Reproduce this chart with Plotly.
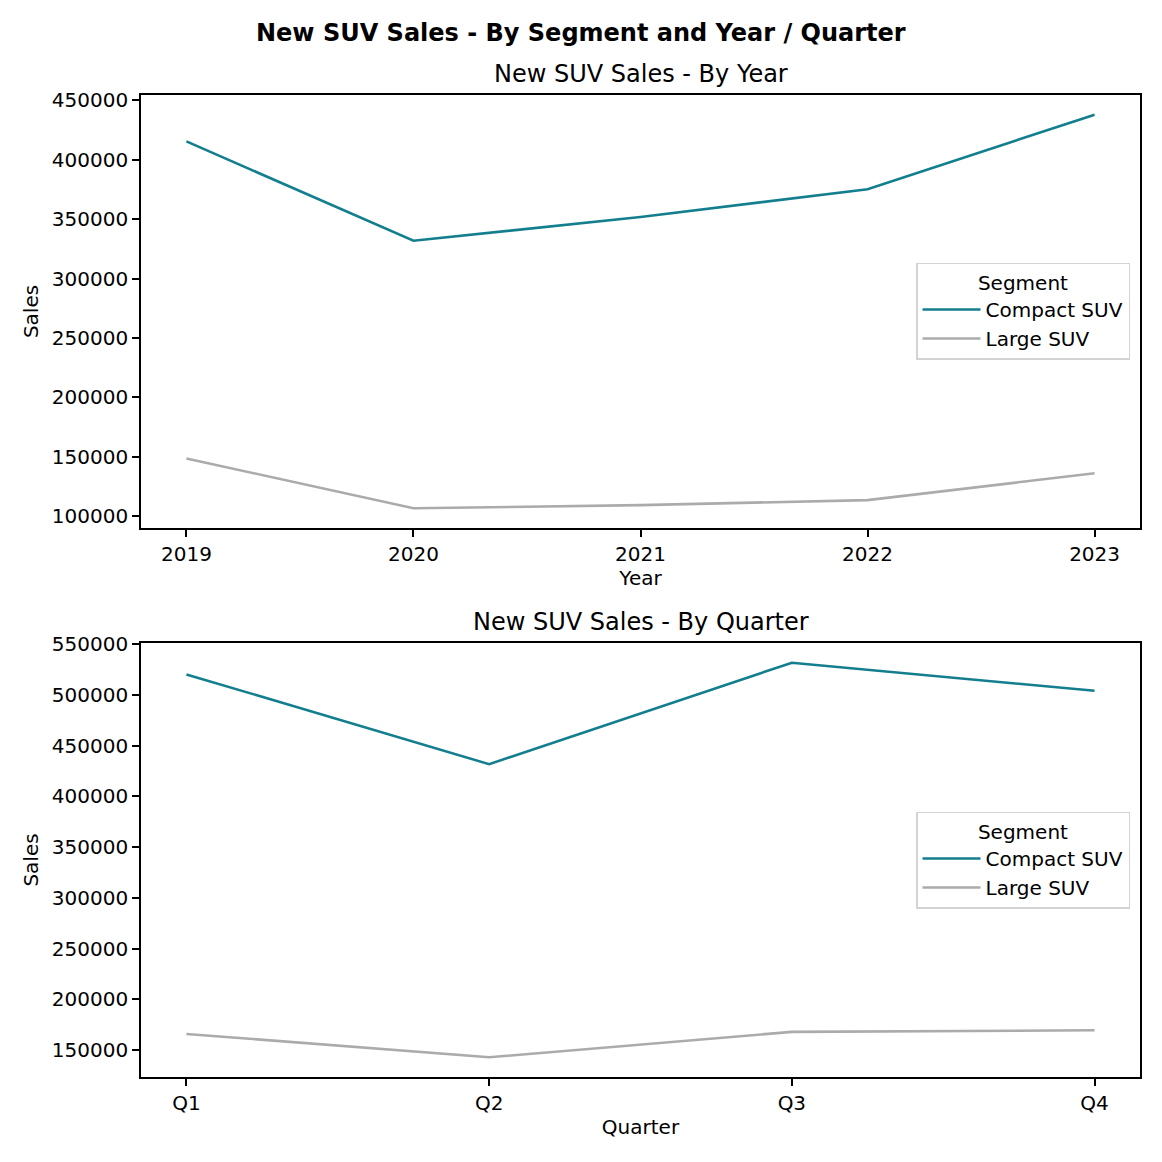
import plotly.graph_objects as go

years = ["2019", "2020", "2021", "2022", "2023"]
year_compact = [415500, 331900, 351900, 375300, 438000]
year_large = [148700, 106700, 109400, 113600, 136200]

quarters = ["Q1", "Q2", "Q3", "Q4"]
q_compact = [520400, 431900, 531900, 504200]
q_large = [165800, 142800, 167800, 169400]

y_ticks_top = [100000, 150000, 200000, 250000, 300000, 350000, 400000, 450000]
y_ticks_bot = [150000, 200000, 250000, 300000, 350000, 400000, 450000, 500000, 550000]

TEAL = "#137f8e"
GRAY = "#ababab"
FONT = "DejaVu Sans"

# page offset (browser body margin) and figure size
OFF = 8.0
S = 1146.0


def px(X):
    return (X - OFF) / S


def py(Y):
    return 1 - (Y - OFF) / S


def pad_range(vals, frac=0.05):
    lo, hi = min(vals), max(vals)
    d = (hi - lo) * frac
    return [lo - d, hi + d]


LW = 2.6
fig = go.Figure()
fig.add_trace(go.Scatter(x=years, y=year_compact, mode="lines", name="Compact SUV",
                         line=dict(color=TEAL, width=LW), xaxis="x", yaxis="y", legend="legend"))
fig.add_trace(go.Scatter(x=years, y=year_large, mode="lines", name="Large SUV",
                         line=dict(color=GRAY, width=LW), xaxis="x", yaxis="y", legend="legend"))
fig.add_trace(go.Scatter(x=quarters, y=q_compact, mode="lines", name="Compact SUV",
                         line=dict(color=TEAL, width=LW), xaxis="x2", yaxis="y2", legend="legend2"))
fig.add_trace(go.Scatter(x=quarters, y=q_large, mode="lines", name="Large SUV",
                         line=dict(color=GRAY, width=LW), xaxis="x2", yaxis="y2", legend="legend2"))

TICK = 20
axis_common = dict(showline=True, mirror=True, linecolor="black", linewidth=1.6,
                   ticks="outside", ticklen=7, tickwidth=1.6, tickcolor="black",
                   showgrid=False, zeroline=False, automargin=False,
                   tickfont=dict(family=FONT, size=TICK, color="black"))

xdom = [px(141), px(1140)]
title_font = dict(family=FONT, size=TICK, color="black")

legend_common = dict(xanchor="right", yanchor="middle", itemwidth=58,
                     bgcolor="rgba(255,255,255,0.8)", bordercolor="#d3d3d3", borderwidth=1.5,
                     title=dict(text="Segment", side="top center", font=dict(family=FONT, size=TICK)),
                     font=dict(family=FONT, size=TICK, color="black"),
                     tracegroupgap=0)

fig.update_layout(
    width=int(S), height=int(S),
    margin=dict(l=0, r=0, t=0, b=0, autoexpand=False),
    paper_bgcolor="white", plot_bgcolor="white",
    font=dict(family=FONT, color="black"),
    xaxis=dict(domain=xdom, anchor="y", type="category",
               range=[-0.2, len(years) - 1 + 0.2],
               title=dict(text="Year", font=title_font, standoff=6),
               **axis_common),
    yaxis=dict(domain=[py(528), py(95)], anchor="x",
               range=pad_range(year_compact + year_large),
               tickvals=y_ticks_top, ticktext=[str(v) for v in y_ticks_top],
               title=dict(text="Sales", font=title_font, standoff=8),
               **axis_common),
    xaxis2=dict(domain=xdom, anchor="y2", type="category",
                range=[-0.15, len(quarters) - 1 + 0.15],
                title=dict(text="Quarter", font=title_font, standoff=6),
                **axis_common),
    yaxis2=dict(domain=[py(1077), py(643)], anchor="x2",
                range=pad_range(q_compact + q_large),
                tickvals=y_ticks_bot, ticktext=[str(v) for v in y_ticks_bot],
                title=dict(text="Sales", font=title_font, standoff=8),
                **axis_common),
    legend=dict(x=px(1130), y=py(311), **legend_common),
    legend2=dict(x=px(1130), y=py(860), **legend_common),
    annotations=[
        dict(text="<b>New SUV Sales - By Segment and Year / Quarter</b>", x=px(581), y=py(33),
             xref="paper", yref="paper", xanchor="center", yanchor="middle", showarrow=False,
             font=dict(family=FONT, size=24, color="black")),
        dict(text="New SUV Sales - By Year", x=(xdom[0] + xdom[1]) / 2, y=py(74),
             xref="paper", yref="paper", xanchor="center", yanchor="middle", showarrow=False,
             font=dict(family=FONT, size=24, color="black")),
        dict(text="New SUV Sales - By Quarter", x=(xdom[0] + xdom[1]) / 2, y=py(622),
             xref="paper", yref="paper", xanchor="center", yanchor="middle", showarrow=False,
             font=dict(family=FONT, size=24, color="black")),
    ],
)

fig.write_html("out.html")
